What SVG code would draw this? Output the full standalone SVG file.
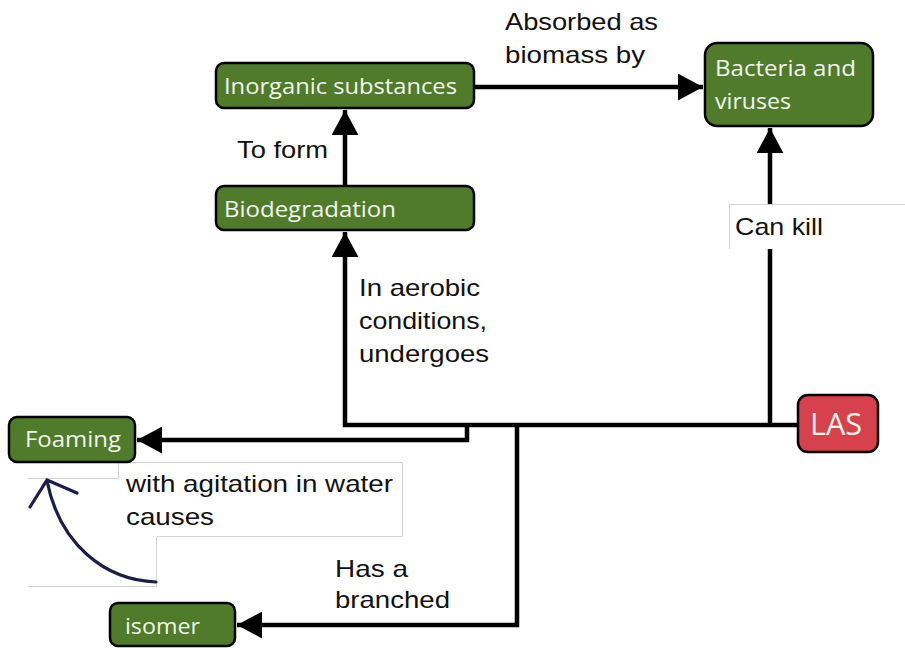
<svg xmlns="http://www.w3.org/2000/svg" width="905" height="648" viewBox="0 0 905 648">
<style>
.node{fill:#4f7b2b;stroke:#000;stroke-width:2.5}
.las{fill:#d7414b;stroke:#000;stroke-width:2.5}
.nt{font-family:"Open Sans","Noto Sans",sans-serif;font-size:21px;fill:#f2f5ee}
.lt{font-family:"Liberation Sans",Arial,sans-serif;font-size:24px;fill:#111}
.edge{fill:none;stroke:#000;stroke-width:4.5}
.bl{fill:none;stroke:#d4d4d4;stroke-width:1}
</style>
<defs>
<marker id="ah" markerWidth="6" markerHeight="6" refX="5.6" refY="3" orient="auto" markerUnits="strokeWidth"><path d="M0,0 L5.6,3 L0,6 Z" fill="#000"/></marker>
</defs>
<rect width="905" height="648" fill="#fff"/>
<g id="connectors">
<path class="edge" d="M474,87 H703" marker-end="url(#ah)"/>
<path class="edge" d="M345,186 V110" marker-end="url(#ah)"/>
<path class="edge" d="M798,425 H345 V232" marker-end="url(#ah)"/>
<path class="edge" d="M467,425 V440 H137" marker-end="url(#ah)"/>
<path class="edge" d="M517,425 V625 H237" marker-end="url(#ah)"/>
<path class="edge" d="M770,425 V128" marker-end="url(#ah)"/>
</g>
<g id="label-boxes">
<rect x="729" y="204" width="176" height="45" fill="#fff"/>
<path class="bl" d="M729.5,249 V204.5 H905"/>
<rect x="28" y="478" width="129" height="109" fill="#fff"/>
<path class="bl" d="M28,478.5 H119 M156.5,537 V586.5 H28"/>
<rect x="119" y="462" width="284" height="75" fill="#fff"/>
<path class="bl" d="M118.5,478 V462.5 H402.5 V536.5 H157"/>
</g>
<g id="curve-arrow" fill="none" stroke="#1b1f48" stroke-width="3.2" stroke-linecap="round">
<path d="M156,582 C105,580 60,545 47,481"/>
<path d="M30,507 L47,480 L77,493"/>
</g>
<g id="labels">
<text class="lt" x="505" y="30" textLength="153" lengthAdjust="spacingAndGlyphs">Absorbed as</text>
<text class="lt" x="505" y="63" textLength="140" lengthAdjust="spacingAndGlyphs">biomass by</text>
<text class="lt" x="237" y="158" textLength="91" lengthAdjust="spacingAndGlyphs">To form</text>
<text class="lt" x="735" y="235" textLength="88" lengthAdjust="spacingAndGlyphs">Can kill</text>
<text class="lt" x="359" y="296" textLength="121" lengthAdjust="spacingAndGlyphs">In aerobic</text>
<text class="lt" x="359" y="329" textLength="128" lengthAdjust="spacingAndGlyphs">conditions,</text>
<text class="lt" x="359" y="362" textLength="130" lengthAdjust="spacingAndGlyphs">undergoes</text>
<text class="lt" x="126" y="492" textLength="267" lengthAdjust="spacingAndGlyphs">with agitation in water</text>
<text class="lt" x="126" y="525" textLength="88" lengthAdjust="spacingAndGlyphs">causes</text>
<text class="lt" x="335" y="577" textLength="73" lengthAdjust="spacingAndGlyphs">Has a</text>
<text class="lt" x="335" y="608" textLength="115" lengthAdjust="spacingAndGlyphs">branched</text>
</g>
<g id="inorganic">
<rect class="node" x="216" y="63" width="258" height="45" rx="8"/>
<text class="nt" x="224" y="94" textLength="233" lengthAdjust="spacingAndGlyphs">Inorganic substances</text>
</g>
<g id="biodegradation">
<rect class="node" x="216" y="186" width="258" height="44" rx="8"/>
<text class="nt" x="224" y="217" textLength="172" lengthAdjust="spacingAndGlyphs">Biodegradation</text>
</g>
<g id="bacteria">
<rect class="node" x="705" y="43" width="168" height="83" rx="12"/>
<text class="nt" x="715" y="76" textLength="141" lengthAdjust="spacingAndGlyphs">Bacteria and</text>
<text class="nt" x="715" y="109" textLength="76" lengthAdjust="spacingAndGlyphs">viruses</text>
</g>
<g id="foaming">
<rect class="node" x="9" y="417" width="126" height="45" rx="8"/>
<text class="nt" x="25" y="447" textLength="96" lengthAdjust="spacingAndGlyphs">Foaming</text>
</g>
<g id="isomer">
<rect class="node" x="110" y="603" width="125" height="43" rx="8"/>
<text class="nt" x="125" y="634" textLength="75" lengthAdjust="spacingAndGlyphs">isomer</text>
</g>
<g id="las">
<rect class="las" x="798" y="395" width="80" height="57" rx="10"/>
<text class="nt" x="810" y="435" style="font-size:31px" textLength="52" lengthAdjust="spacingAndGlyphs">LAS</text>
</g>
</svg>
